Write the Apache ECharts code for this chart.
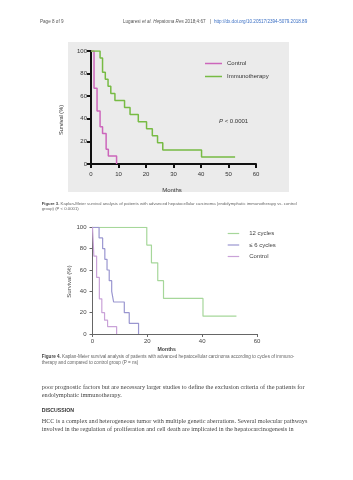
<!DOCTYPE html>
<html>
<head>
<meta charset="utf-8">
<script src="https://cdn.jsdelivr.net/npm/echarts@6/dist/echarts.min.js"></script>
<style>
  html, body { margin: 0; padding: 0; background: #fff; }
  #page { width: 353px; height: 480px; }
</style>
</head>
<body>
<div id="page"></div>
<script>
// Figure 3: control vs immunotherapy (months, survival %)
const fig3ControlMonths = [0, 1.1, 2.2, 3.3, 4.2, 5.5, 6.3, 9.3]
const fig3ControlSurv = [100, 67, 47, 33, 27, 13, 7, 0]
const fig3ImmunoMonths = [0, 3.3, 4.2, 5.2, 6.2, 7.2, 8.7, 12.2, 14.2, 17.2, 20.2, 22.3, 24.2, 26.1, 40.2, 52.4]
const fig3ImmunoSurv = [100, 93.75, 81.25, 75, 68.75, 62.5, 56.25, 50, 43.75, 37.5, 31.25, 25, 18.75, 12.5, 6.25, 6.25]

// Figure 4: by number of cycles
const fig4TwelveMonths = [0, 19.8, 21.5, 23.8, 25.9, 40.3, 52.5]
const fig4TwelveSurv = [100, 83.3, 66.7, 50, 33.3, 16.7, 16.7]
const fig4SixMonths = [0, 2.4, 3.7, 4.5, 5.3, 6.1, 7, 7.7, 11.6, 13.4, 16.8]
const fig4SixSurv = [100, 90, 80, 70, 60, 50, 40, 30, 20, 10, 0]
const fig4ControlMonths = [0, 0.5, 1.5, 2.5, 3.4, 4.4, 5.5, 8.8]
const fig4ControlSurv = [100, 73, 53, 33, 20, 13, 7, 0]

const fig3Legend = ['Control', 'Immunotherapy']
const fig4Legend = ['12 cycles', '≤ 6 cycles', 'Control ']

const pairs = (xs, ys) => xs.map((x, i) => [x, ys[i]])

const sans = 'Liberation Sans'
const serif = 'Liberation Serif'

const chart = echarts.init(document.getElementById('page'), null, { renderer: 'canvas' })

// step line for a KM curve
const kmSeries = (name, xs, ys, idx, color, width) => ({
  name,
  type: 'line',
  xAxisIndex: idx,
  yAxisIndex: idx,
  step: 'end',
  symbol: 'none',
  lineStyle: { color, width },
  itemStyle: { color },
  data: pairs(xs, ys),
})

const text = (x, y, str, font, fill, extra) => ({
  type: 'text',
  x, y,
  silent: true,
  style: Object.assign({ text: str, font, fill, verticalAlign: 'middle' }, extra || {}),
})

const option = {
  animation: false,
  backgroundColor: '#fff',
  grid: [
    { left: 91, top: 51, width: 165, height: 113 },
    { left: 92.5, top: 227.3, width: 164.5, height: 106.7 },
  ],
  xAxis: [
    {
      gridIndex: 0, type: 'value', min: 0, max: 60, interval: 10,
      axisLine: { lineStyle: { color: '#111', width: 2 } },
      axisTick: { length: 4, lineStyle: { color: '#111', width: 2 } },
      axisLabel: { fontFamily: sans, fontSize: 6, color: '#333', margin: 7.5 },
      splitLine: { show: false },
    },
    {
      gridIndex: 1, type: 'value', min: 0, max: 60, interval: 20,
      axisLine: { lineStyle: { color: '#666', width: 1 } },
      axisTick: { length: 3, lineStyle: { color: '#666', width: 1 } },
      axisLabel: { fontFamily: sans, fontSize: 6, color: '#444', margin: 4.5 },
      splitLine: { show: false },
    },
  ],
  yAxis: [
    {
      gridIndex: 0, type: 'value', min: 0, max: 100, interval: 20,
      axisLine: { show: true, lineStyle: { color: '#111', width: 2 } },
      axisTick: { show: true, length: 4, lineStyle: { color: '#111', width: 2 } },
      axisLabel: { fontFamily: sans, fontSize: 6, color: '#333', margin: 4 },
      splitLine: { show: false },
    },
    {
      gridIndex: 1, type: 'value', min: 0, max: 100, interval: 20,
      axisLine: { show: true, lineStyle: { color: '#666', width: 1 } },
      axisTick: { show: true, length: 3, lineStyle: { color: '#666', width: 1 } },
      axisLabel: { fontFamily: sans, fontSize: 6, color: '#444', margin: 6 },
      splitLine: { show: false },
    },
  ],
  legend: [
    {
      data: fig3Legend,
      orient: 'vertical',
      left: 200, top: 55.5,
      itemWidth: 17, itemHeight: 1.5, itemGap: 7,
      icon: 'rect',
      textStyle: { fontFamily: sans, fontSize: 6, color: '#333' },
      selectedMode: false,
    },
    {
      data: fig4Legend,
      orient: 'vertical',
      left: 222.7, top: 225.5,
      itemWidth: 11.5, itemHeight: 1.2, itemGap: 5.5,
      icon: 'rect',
      formatter: (n) => n.trim(),
      textStyle: { fontFamily: sans, fontSize: 6, color: '#444', padding: [0, 0, 0, 5] },
      selectedMode: false,
    },
  ],
  series: [
    kmSeries('Control', fig3ControlMonths, fig3ControlSurv, 0, '#cc66bb', 1.5),
    kmSeries('Immunotherapy', fig3ImmunoMonths, fig3ImmunoSurv, 0, '#77bb44', 1.5),
    kmSeries('12 cycles', fig4TwelveMonths, fig4TwelveSurv, 1, '#a6d79a', 1.2),
    kmSeries('≤ 6 cycles', fig4SixMonths, fig4SixSurv, 1, '#9a96d0', 1.2),
    kmSeries('Control ', fig4ControlMonths, fig4ControlSurv, 1, '#c9a2d8', 1.2),
  ],
  graphic: [
    // grey panel behind figure 3
    { type: 'rect', z: -10, silent: true, shape: { x: 68, y: 42, width: 221, height: 150 }, style: { fill: '#ebebeb' } },

    // running header
    text(40, 22, 'Page 8 of 9', `4.6px ${sans}`, '#555'),
    text(123, 22, '{n|Lugaresi }{i|et al. Hepatoma Res} {n|2018;4:67}', `4.6px ${sans}`, '#555', {
      rich: { n: { font: `4.6px ${sans}`, fill: '#555' }, i: { font: `italic 4.6px ${sans}`, fill: '#555' } },
    }),
    text(210, 22, '|', `4.6px ${sans}`, '#555'),
    text(214, 22, 'http://dx.doi.org/10.20517/2394-5079.2018.89', `4.6px ${sans}`, '#3a6fc4'),

    // figure 3 labels
    text(219, 121, '{i|P} < 0.0001', `6px ${sans}`, '#333', {
      rich: { i: { font: `italic 6px ${sans}`, fill: '#333' } },
    }),
    text(172, 190, 'Months', `6px ${sans}`, '#333', { align: 'center' }),
    { type: 'text', x: 61, y: 120, rotation: Math.PI / 2, silent: true,
      style: { text: 'Survival (%)', font: `5.6px ${sans}`, fill: '#333', align: 'center', verticalAlign: 'middle' } },

    // figure 3 caption
    text(41.7, 203.5, '{b|Figure 3.} Kaplan-Meier survival analysis of patients with advanced hepatocellular carcinoma (endolymphatic immunotherapy vs. control',
      `4.25px ${sans}`, '#666', { rich: { b: { font: `bold 4.25px ${sans}`, fill: '#444' } } }),
    text(41.7, 209, 'group) (P < 0.0001)', `4.25px ${sans}`, '#666'),

    // figure 4 labels
    text(166.7, 349.3, 'Months', `bold 5.2px ${sans}`, '#444', { align: 'center' }),
    { type: 'text', x: 69, y: 281.5, rotation: Math.PI / 2, silent: true,
      style: { text: 'Survival (%)', font: `6px ${sans}`, fill: '#444', align: 'center', verticalAlign: 'middle' } },

    // figure 4 caption
    text(41.7, 356.7, '{b|Figure 4.} Kaplan-Meier survival analysis of patients with advanced hepatocellular carcinoma according to cycles of immuno-',
      `4.6px ${sans}`, '#666', { rich: { b: { font: `bold 4.6px ${sans}`, fill: '#444' } } }),
    text(41.7, 362.5, 'therapy and compared to control group (P = ns)', `4.6px ${sans}`, '#666'),

    // body text
    text(41.7, 387.3, 'poor prognostic factors but are necessary larger studies to define the exclusion criteria of the patients for', `6.3px ${serif}`, '#444'),
    text(41.7, 395, 'endolymphatic immunotherapy.', `6.3px ${serif}`, '#444'),
    text(41.7, 411, 'DISCUSSION', `bold 5.2px ${sans}`, '#333'),
    text(41.7, 421.7, 'HCC is a complex and heterogeneous tumor with multiple genetic aberrations. Several molecular pathways', `6.2px ${serif}`, '#444'),
    text(41.7, 429.3, 'involved in the regulation of proliferation and cell death are implicated in the hepatocarcinogenesis in', `6.2px ${serif}`, '#444'),
  ],
}

chart.setOption(option)
</script>
</body>
</html>
